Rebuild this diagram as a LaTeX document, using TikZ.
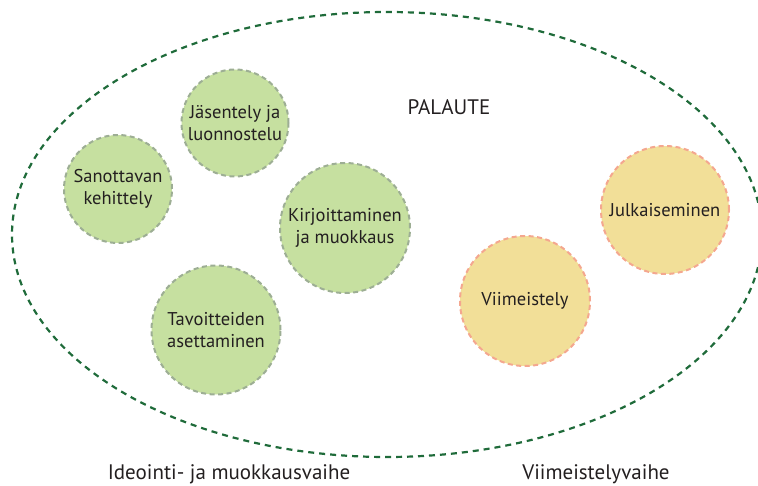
\documentclass[tikz,border=0pt]{standalone}
\usepackage{fontspec}
\setmainfont{PT Sans}
\usepackage{tikz}
\definecolor{leafgreen}{HTML}{C6E0A0}
\definecolor{leafedge}{HTML}{9DAE94}
\definecolor{sandfill}{HTML}{F2DF98}
\definecolor{sandedge}{HTML}{F4A78F}
\definecolor{loopgreen}{HTML}{1F6B3A}
\definecolor{inktext}{HTML}{231F20}

\begin{document}
\begin{tikzpicture}[x=1pt,y=-1pt,font=\fontsize{18.5}{22}\selectfont,text=inktext,
 phase/.style n args={3}{circle,fill=#1,draw=#2,line width=2pt,dash pattern=on 5pt off 3.5pt,minimum size=#3pt,inner sep=0pt,align=center},
 ideabox/.style={phase={leafgreen}{leafedge}{#1}},
 finalbox/.style={phase={sandfill}{sandedge}{#1}},
 caption/.style={font=\fontsize{21}{24}\selectfont}]
\useasboundingbox (0,0) rectangle (758,486);
% palautesilmukka
\draw[loopgreen,line width=2.2pt,dash pattern=on 6pt off 5pt] (387,234.5) ellipse [x radius=375,y radius=222.5];
\node[caption] (palaute) at (449,107) {PALAUTE};
% ideointi
\node[ideabox=107] (jasentely) at (235,123) {Jäsentely ja\\luonnostelu};
\node[ideabox=108] (sanottava) at (118,189) {Sanottavan\\kehittely};
\node[ideabox=130] (kirjoittaminen) at (345,228) {Kirjoittaminen\\ja muokkaus};
\node[ideabox=129] (tavoitteet) at (216,330) {Tavoitteiden\\asettaminen};
% viimeistely
\node[finalbox=128] (julkaisu) at (665,210) {Julkaiseminen};
\node[finalbox=130] (viimeistely) at (525,301) {Viimeistely};
\node[caption] (ideointi) at (229,474) {Ideointi- ja muokkausvaihe};
\node[caption] (vaihe) at (596,474) {Viimeistelyvaihe};
\end{tikzpicture}
\end{document}
